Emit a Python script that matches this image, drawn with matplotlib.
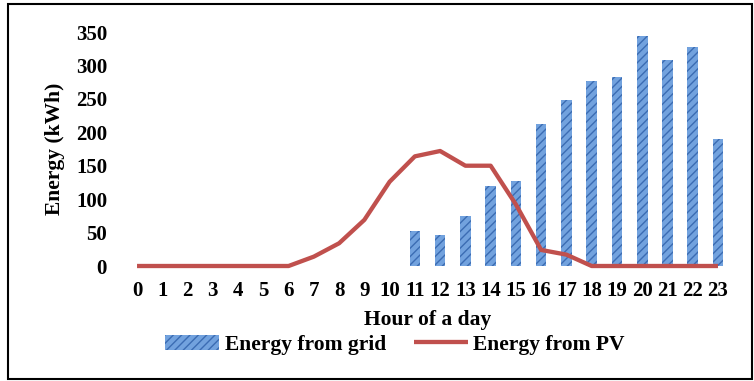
import matplotlib
matplotlib.use("Agg")
import matplotlib.pyplot as plt
from matplotlib.patches import Rectangle
import numpy as np

hours = list(range(24))
hour_labels = [str(h) for h in hours]
grid_energy = [0, 0, 0, 0, 0, 0, 0, 0, 0, 0, 0, 52, 47, 75, 119, 127, 212, 248, 276, 283, 344, 308, 328, 190]
pv_energy = [0, 0, 0, 0, 0, 0, 0, 14, 34, 69, 126, 164, 172, 150, 150, 92, 24, 17, 0, 0, 0, 0, 0, 0]
y_ticks = [0, 50, 100, 150, 200, 250, 300, 350]

plt.rcParams['font.family'] = ['Liberation Serif', 'DejaVu Serif']
plt.rcParams['font.weight'] = 'bold'
plt.rcParams['hatch.linewidth'] = 1.0

TICK_FS = 15
LABEL_FS = 15.5

W, H = 754, 381
fig = plt.figure(figsize=(W / 100, H / 100), dpi=100)
ax_left, ax_right = 124.4, 730.6
ax_top, ax_bot = 32, 266
ax = fig.add_axes([ax_left / W, (H - ax_bot) / H, (ax_right - ax_left) / W, (ax_bot - ax_top) / H])

x = np.array(hours)
mask = np.array(grid_energy) > 0
bars = ax.bar(x[mask], np.array(grid_energy)[mask], width=0.42, color='#72A2DE', edgecolor='#3B6CB3',
              hatch='////', linewidth=0, label='Energy from grid', clip_on=False, zorder=2)
line, = ax.plot(x, pv_energy, color='#C0504D', linewidth=3.1, label='Energy from PV',
                solid_capstyle='butt', clip_on=False, zorder=3)

ax.set_xlim(-0.5, 23.5)
ax.set_ylim(0, 350)
ax.set_yticks(y_ticks)
ax.set_yticklabels([str(v) for v in y_ticks], fontsize=TICK_FS, fontweight='bold')
ax.set_xticks(hours)
ax.set_xticklabels(hour_labels, fontsize=TICK_FS, fontweight='bold')
ax.tick_params(axis='y', length=0, pad=12.5)
ax.tick_params(axis='x', length=0, pad=10.5)
for s in ax.spines.values():
    s.set_visible(False)

ax.set_xlabel('Hour of a day', fontsize=LABEL_FS, fontweight='bold')
ax.xaxis.set_label_coords(0.5, -(320 - ax_bot) / (ax_bot - ax_top))
ax.xaxis.label.set_va('center')
ax.set_ylabel('Energy (kWh)', fontsize=LABEL_FS, fontweight='bold')
ax.yaxis.set_label_coords((55 - ax_left) / (ax_right - ax_left), 0.5)
ax.yaxis.label.set_va('center')

fig.legend(handles=[bars, line], labels=['Energy from grid', 'Energy from PV'],
           loc='center', bbox_to_anchor=(395 / W, 1 - 345 / H), ncol=2, frameon=False,
           handlelength=2.5, handletextpad=0.25, columnspacing=1.3,
           prop={'weight': 'bold', 'size': LABEL_FS})

fig.add_artist(Rectangle((8 / W, 2 / H), (752 - 8) / W, (378 - 3) / H, transform=fig.transFigure,
                         fill=False, edgecolor='black', linewidth=1.5))

fig.savefig('out.png', dpi=100)
